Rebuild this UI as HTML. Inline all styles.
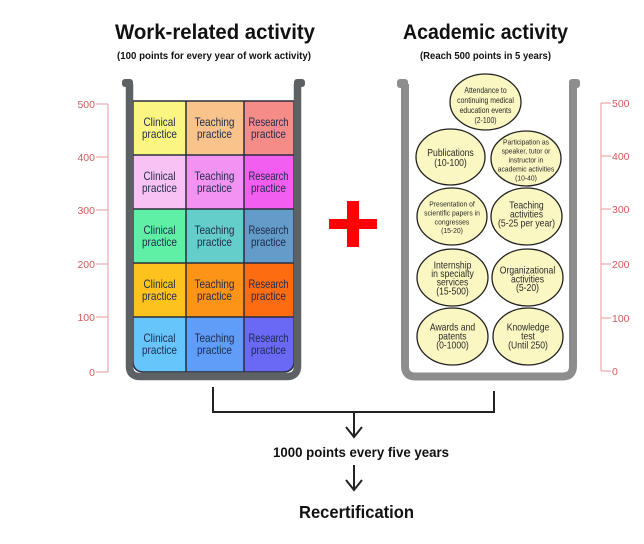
<!DOCTYPE html>
<html><head><meta charset="utf-8"><style>
html,body{margin:0;padding:0;background:#fff;}
svg{display:block;}
text{font-family:"Liberation Sans",sans-serif;}
</style></head><body>
<svg width="644" height="544" viewBox="0 0 644 544" xmlns="http://www.w3.org/2000/svg">
<rect width="644" height="544" fill="#fff"/>
<!-- Titles -->
<text x="215" y="39" font-size="21" font-weight="bold" fill="#111" text-anchor="middle" textLength="200" lengthAdjust="spacingAndGlyphs">Work-related activity</text>
<text x="214" y="59" font-size="10.5" font-weight="bold" fill="#111" text-anchor="middle" textLength="194" lengthAdjust="spacingAndGlyphs">(100 points for every year of work activity)</text>
<text x="485.5" y="39" font-size="21" font-weight="bold" fill="#111" text-anchor="middle" textLength="165" lengthAdjust="spacingAndGlyphs">Academic activity</text>
<text x="485.5" y="59" font-size="10.5" font-weight="bold" fill="#111" text-anchor="middle" textLength="131" lengthAdjust="spacingAndGlyphs">(Reach 500 points in 5 years)</text>

<!-- Left axis -->
<g stroke="#eaa9a9" stroke-width="1.2" fill="none">
<line x1="108" y1="104" x2="108" y2="372"/>
<line x1="96" y1="104" x2="108" y2="104"/>
<line x1="96" y1="157" x2="108" y2="157"/>
<line x1="96" y1="210" x2="108" y2="210"/>
<line x1="96" y1="264" x2="108" y2="264"/>
<line x1="96" y1="317" x2="108" y2="317"/>
<line x1="96" y1="372" x2="108" y2="372"/>
</g>
<g font-size="10.5" fill="#d45a5c" text-anchor="end">
<text x="95" y="108">500</text>
<text x="95" y="161">400</text>
<text x="95" y="214">300</text>
<text x="95" y="268">200</text>
<text x="95" y="321">100</text>
<text x="95" y="376">0</text>
</g>

<!-- Right axis -->
<g stroke="#eaa9a9" stroke-width="1.2" fill="none">
<line x1="601" y1="103" x2="601" y2="371"/>
<line x1="601" y1="103" x2="611" y2="103"/>
<line x1="601" y1="156" x2="611" y2="156"/>
<line x1="601" y1="209" x2="611" y2="209"/>
<line x1="601" y1="264" x2="611" y2="264"/>
<line x1="601" y1="318" x2="611" y2="318"/>
<line x1="601" y1="371" x2="611" y2="371"/>
</g>
<g font-size="10.5" fill="#d45a5c" text-anchor="start">
<text x="612" y="107">500</text>
<text x="612" y="160">400</text>
<text x="612" y="213">300</text>
<text x="612" y="268">200</text>
<text x="612" y="322">100</text>
<text x="612" y="375">0</text>
</g>

<!-- Left beaker grid -->
<defs>
<clipPath id="gc"><path d="M133,101 H294 V361 Q294,372 283,372 H144 Q133,372 133,361 Z"/></clipPath>
</defs>
<g clip-path="url(#gc)">
<rect x="133" y="101" width="53" height="54" fill="#fbf682"/>
<rect x="186" y="101" width="58" height="54" fill="#f8c48c"/>
<rect x="244" y="101" width="50" height="54" fill="#f68c88"/>
<rect x="133" y="155" width="53" height="54" fill="#f8c3f4"/>
<rect x="186" y="155" width="58" height="54" fill="#f293f1"/>
<rect x="244" y="155" width="50" height="54" fill="#f25ff0"/>
<rect x="133" y="209" width="53" height="54" fill="#5ff0a6"/>
<rect x="186" y="209" width="58" height="54" fill="#64cfca"/>
<rect x="244" y="209" width="50" height="54" fill="#639bc9"/>
<rect x="133" y="263" width="53" height="54" fill="#fdc21d"/>
<rect x="186" y="263" width="58" height="54" fill="#fd9317"/>
<rect x="244" y="263" width="50" height="54" fill="#fe6c12"/>
<rect x="133" y="317" width="53" height="55" fill="#66c6fb"/>
<rect x="186" y="317" width="58" height="55" fill="#5f9df8"/>
<rect x="244" y="317" width="50" height="55" fill="#6969f5"/>
<g stroke="#2a2c3a" stroke-width="1.5" fill="none">
<line x1="133" y1="155" x2="294" y2="155"/>
<line x1="133" y1="209" x2="294" y2="209"/>
<line x1="133" y1="263" x2="294" y2="263"/>
<line x1="133" y1="317" x2="294" y2="317"/>
<line x1="186" y1="101" x2="186" y2="372"/>
<line x1="244" y1="101" x2="244" y2="372"/>
</g>
</g>
<path d="M133,101 H294 V361 Q294,372 283,372 H144 Q133,372 133,361 Z" fill="none" stroke="#2a2c3a" stroke-width="1.5"/>

<g font-size="12" fill="#1f2a4a" text-anchor="middle">
<text x="159.5" y="126" textLength="32" lengthAdjust="spacingAndGlyphs">Clinical</text>
<text x="159.5" y="138" textLength="35" lengthAdjust="spacingAndGlyphs">practice</text>
<text x="214.5" y="126" textLength="40" lengthAdjust="spacingAndGlyphs">Teaching</text>
<text x="214.5" y="138" textLength="35" lengthAdjust="spacingAndGlyphs">practice</text>
<text x="268.5" y="126" textLength="40" lengthAdjust="spacingAndGlyphs">Research</text>
<text x="268.5" y="138" textLength="35" lengthAdjust="spacingAndGlyphs">practice</text>

<text x="159.5" y="180" textLength="32" lengthAdjust="spacingAndGlyphs">Clinical</text>
<text x="159.5" y="192" textLength="35" lengthAdjust="spacingAndGlyphs">practice</text>
<text x="214.5" y="180" textLength="40" lengthAdjust="spacingAndGlyphs">Teaching</text>
<text x="214.5" y="192" textLength="35" lengthAdjust="spacingAndGlyphs">practice</text>
<text x="268.5" y="180" textLength="40" lengthAdjust="spacingAndGlyphs">Research</text>
<text x="268.5" y="192" textLength="35" lengthAdjust="spacingAndGlyphs">practice</text>

<text x="159.5" y="234" textLength="32" lengthAdjust="spacingAndGlyphs">Clinical</text>
<text x="159.5" y="246" textLength="35" lengthAdjust="spacingAndGlyphs">practice</text>
<text x="214.5" y="234" textLength="40" lengthAdjust="spacingAndGlyphs">Teaching</text>
<text x="214.5" y="246" textLength="35" lengthAdjust="spacingAndGlyphs">practice</text>
<text x="268.5" y="234" textLength="40" lengthAdjust="spacingAndGlyphs">Research</text>
<text x="268.5" y="246" textLength="35" lengthAdjust="spacingAndGlyphs">practice</text>

<text x="159.5" y="288" textLength="32" lengthAdjust="spacingAndGlyphs">Clinical</text>
<text x="159.5" y="300" textLength="35" lengthAdjust="spacingAndGlyphs">practice</text>
<text x="214.5" y="288" textLength="40" lengthAdjust="spacingAndGlyphs">Teaching</text>
<text x="214.5" y="300" textLength="35" lengthAdjust="spacingAndGlyphs">practice</text>
<text x="268.5" y="288" textLength="40" lengthAdjust="spacingAndGlyphs">Research</text>
<text x="268.5" y="300" textLength="35" lengthAdjust="spacingAndGlyphs">practice</text>

<text x="159.5" y="342" textLength="32" lengthAdjust="spacingAndGlyphs">Clinical</text>
<text x="159.5" y="354" textLength="35" lengthAdjust="spacingAndGlyphs">practice</text>
<text x="214.5" y="342" textLength="40" lengthAdjust="spacingAndGlyphs">Teaching</text>
<text x="214.5" y="354" textLength="35" lengthAdjust="spacingAndGlyphs">practice</text>
<text x="268.5" y="342" textLength="40" lengthAdjust="spacingAndGlyphs">Research</text>
<text x="268.5" y="354" textLength="35" lengthAdjust="spacingAndGlyphs">practice</text>
</g>

<!-- Left beaker walls -->
<path d="M129.5,84 V366 Q129.5,376.5 140,376.5 H287 Q297.5,376.5 297.5,366 V84" fill="none" stroke="#5d6164" stroke-width="7.5"/>
<rect x="122" y="79" width="11" height="8" rx="3" fill="#5d6164"/>
<rect x="294" y="79" width="11" height="8" rx="3" fill="#5d6164"/>

<!-- Right beaker walls -->
<path d="M405,84 V366 Q405,376.5 415.5,376.5 H562.5 Q573,376.5 573,366 V84" fill="none" stroke="#8d8d8d" stroke-width="8"/>
<rect x="397" y="79" width="11" height="9" rx="3" fill="#8d8d8d"/>
<rect x="569" y="79" width="11" height="9" rx="3" fill="#8d8d8d"/>

<!-- Plus -->
<rect x="329" y="219" width="48" height="10" fill="#ff0000"/>
<rect x="347" y="201" width="12" height="46" fill="#ff0000"/>

<!-- Ellipses -->
<g fill="#fbf7c2" stroke="#222" stroke-width="1.3">
<ellipse cx="485.5" cy="102" rx="35.5" ry="28"/>
<ellipse cx="450.5" cy="157" rx="34.5" ry="28"/>
<ellipse cx="526" cy="158.5" rx="35" ry="27.5"/>
<ellipse cx="452" cy="216.5" rx="35" ry="28.5"/>
<ellipse cx="526.5" cy="216.5" rx="35.5" ry="28.5"/>
<ellipse cx="452.5" cy="277.5" rx="35.5" ry="28.5"/>
<ellipse cx="527.5" cy="277.5" rx="35.5" ry="28.5"/>
<ellipse cx="452.5" cy="336.5" rx="35.5" ry="28.5"/>
<ellipse cx="528" cy="336.5" rx="35" ry="28.5"/>
</g>

<g fill="#2a2a2a" text-anchor="middle">
<g transform="translate(485.5 0) scale(0.88 1)" font-size="7.8">
<text x="0" y="93">Attendance to</text>
<text x="0" y="103">continuing medical</text>
<text x="0" y="113">education events</text>
<text x="0" y="123">(2-100)</text>
</g>
<g transform="translate(450.5 0) scale(0.82 1)" font-size="10.5">
<text x="0" y="156">Publications</text>
<text x="0" y="166">(10-100)</text>
</g>
<g transform="translate(526 0) scale(0.9 1)" font-size="7.5">
<text x="0" y="144.5">Participation as</text>
<text x="0" y="153.5">speaker, tutor or</text>
<text x="0" y="162.5">instructor in</text>
<text x="0" y="171.5">academic activities</text>
<text x="0" y="180.5">(10-40)</text>
</g>
<g transform="translate(452 0) scale(0.93 1)" font-size="7.3">
<text x="0" y="206.5">Presentation of</text>
<text x="0" y="215.5">scientific papers in</text>
<text x="0" y="224.5">congresses</text>
<text x="0" y="233">(15-20)</text>
</g>
<g transform="translate(526.5 0) scale(0.82 1)" font-size="10.5">
<text x="0" y="208.5">Teaching</text>
<text x="0" y="217.5">activities</text>
<text x="0" y="226.5">(5-25 per year)</text>
</g>
<g transform="translate(452.5 0) scale(0.82 1)" font-size="10.5">
<text x="0" y="268.5">Internship</text>
<text x="0" y="277">in specialty</text>
<text x="0" y="285.5">services</text>
<text x="0" y="294.5">(15-500)</text>
</g>
<g transform="translate(527.5 0) scale(0.82 1)" font-size="10.5">
<text x="0" y="273.5">Organizational</text>
<text x="0" y="282.5">activities</text>
<text x="0" y="291">(5-20)</text>
</g>
<g transform="translate(452.5 0) scale(0.82 1)" font-size="10.5">
<text x="0" y="330.5">Awards and</text>
<text x="0" y="339.5">patents</text>
<text x="0" y="348.5">(0-1000)</text>
</g>
<g transform="translate(528 0) scale(0.82 1)" font-size="10.5">
<text x="0" y="330.5">Knowledge</text>
<text x="0" y="339.5">test</text>
<text x="0" y="348.5">(Until 250)</text>
</g>
</g>

<!-- Bracket and arrows -->
<g stroke="#222" stroke-width="2" fill="none">
<path d="M213,387 V412 H494 V391"/>
<line x1="354" y1="412" x2="354" y2="437"/>
<path d="M346,427 L354,437 L362,427"/>
<line x1="354" y1="465" x2="354" y2="490"/>
<path d="M346,480 L354,490 L362,480"/>
</g>

<text x="361" y="457" font-size="14" font-weight="bold" fill="#111" text-anchor="middle" textLength="176" lengthAdjust="spacingAndGlyphs">1000 points every five years</text>
<text x="356.5" y="518" font-size="17.5" font-weight="bold" fill="#111" text-anchor="middle" textLength="115" lengthAdjust="spacingAndGlyphs">Recertification</text>
</svg>
</body></html>
